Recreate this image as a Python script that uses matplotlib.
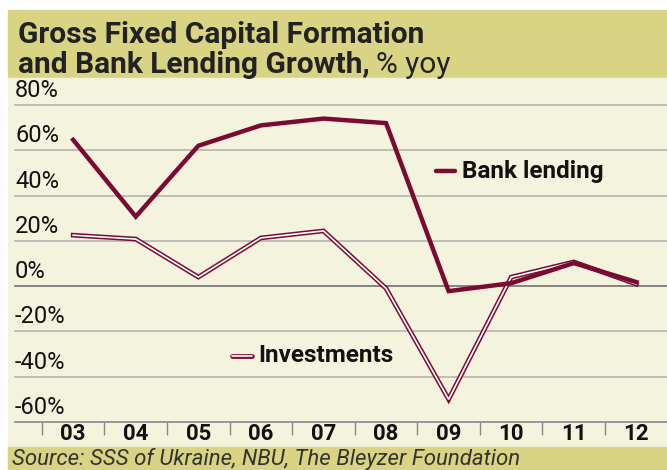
import matplotlib
matplotlib.use('Agg')
import matplotlib.pyplot as plt
from matplotlib.patches import Rectangle

# данные
years = ['03', '04', '05', '06', '07', '08', '09', '10', '11', '12']
bank_lending = [64.6, 30.7, 62, 71, 74, 72, -2.2, 1.3, 10.2, 1.8]
investments = [22.5, 20.8, 4, 21.3, 24.4, -1, -50, 4, 10.7, 0.9]
yticks = [-60, -40, -20, 0, 20, 40, 60, 80]

W, H = 667, 470
band = '#d9d384'
cream = '#f4f3de'
red = '#7b0a32'
fnt = ['Roboto', 'DejaVu Sans']

def fx(px):
    return px / W

def fy(py):
    return 1 - py / H

fig = plt.figure(figsize=(W / 100, H / 100), dpi=100)
fig.patch.set_facecolor('white')

# фон: полосы заголовка и подписи
for y0, y1, c in [(10, 78, band), (78, 447, cream), (447, 470, band)]:
    fig.patches.append(Rectangle((fx(8), fy(y1)), 1, fy(y0) - fy(y1), transform=fig.transFigure,
                                 color=c, zorder=-10))

ax = fig.add_axes([fx(15), fy(422), fx(667) - fx(15), fy(105) - fy(422)])
ax.set_facecolor('none')
x = list(range(len(years)))
ax.set_xlim(-0.93, 9.49)
ax.set_ylim(-60, 80)

for v in yticks:
    if v == 0:
        ax.axhline(v, color='#707070', lw=1.2, zorder=1, clip_on=False)
    elif v == -60:
        ax.axhline(v, color='#888888', lw=1.2, zorder=1, clip_on=False)
    else:
        ax.axhline(v, color='#b5b5b0', lw=1.2, zorder=1, clip_on=False)
    ax.text(-0.93, v + 1.3, f'{v}%', fontsize=17, family=fnt, va='bottom', ha='left', color='#111111')

ax.plot(x, investments, color=red, lw=3.4, zorder=3, solid_joinstyle='miter')
ax.plot(x, investments, color='white', lw=1.2, zorder=4, solid_joinstyle='miter')
ax.plot(x, bank_lending, color=red, lw=3.2, zorder=5, solid_joinstyle='miter')

for spine in ax.spines.values():
    spine.set_visible(False)
ax.set_yticks([])
ax.set_xticks([i - 0.5 for i in x])
ax.set_xticklabels([])
ax.tick_params(axis='x', length=9, width=1, color='#888888', direction='out')
for i, lab in zip(x, years):
    ax.text(i, -68, lab, fontsize=16, family=fnt, weight='bold', ha='center', va='baseline', color='#111111')

# легенда
ax.plot([(436 - 73) / 62.6, (455 - 73) / 62.6], [(286 - 172) / 2.25] * 2, color=red, lw=3.2, solid_capstyle='round', clip_on=False)
ax.text((462 - 73) / 62.6, (286 - 172) / 2.25, 'Bank lending', fontsize=17.5, family=fnt, weight='bold', va='center', color='#111111')
ax.plot([(232 - 73) / 62.6, (252 - 73) / 62.6], [(286 - 355) / 2.25] * 2, color=red, lw=3.4, solid_capstyle='round', clip_on=False)
ax.plot([(232 - 73) / 62.6, (252 - 73) / 62.6], [(286 - 355) / 2.25] * 2, color='white', lw=1.2, solid_capstyle='round', clip_on=False)
ax.text((258 - 73) / 62.6, (286 - 355) / 2.25, 'Investments', fontsize=17.5, family=fnt, weight='bold', va='center', color='#111111')

# заголовок
fig.text(fx(18), fy(43), 'Gross Fixed Capital Formation', fontsize=21.5, family=fnt, weight='bold', color='#222222')
t = fig.text(fx(18), fy(73), 'and Bank Lending Growth,', fontsize=21.5, family=fnt, weight='bold', color='#222222')
fig.canvas.draw()
bb = t.get_window_extent()
fig.text(bb.x1 / W + fx(6), fy(73), '% yoy', fontsize=21.5, family=fnt, color='#222222')

fig.text(fx(12), fy(465), 'Source: SSS of Ukraine, NBU, The Bleyzer Foundation', fontsize=16, family=fnt, style='italic', color='#333333')

fig.savefig('out.png', dpi=100)
